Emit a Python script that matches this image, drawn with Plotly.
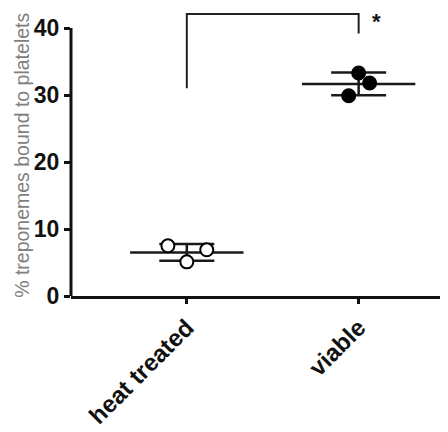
import numpy as np
import plotly.graph_objects as go

# ---- data ----
categories = ["heat treated", "viable"]
heat_treated = [7.5, 6.9, 5.1]
viable = [33.3, 31.8, 29.9]
y_ticks = [0, 10, 20, 30, 40]
y_title = "% treponemes bound to platelets"
sig_label = "*"
bracket_levels = [31.0, 42.1, 39.2]   # left leg bottom, top, right leg bottom

# ---- style / layout positions ----
offsets = [[-0.11, 0.116, 0.0], [0.0, 0.064, -0.058]]
fills = ["white", "black"]
mean_hw = 0.33
sd_hw = 0.16
font = "Liberation Sans, Arial, sans-serif"

fig = go.Figure()

groups = [heat_treated, viable]

for i, vals in enumerate(groups):
    v = np.array(vals)
    m = v.mean()
    sd = v.std(ddof=1)
    fig.add_trace(go.Scatter(
        x=[i, i, None, i - sd_hw, i + sd_hw, None, i - sd_hw, i + sd_hw, None, i - mean_hw, i + mean_hw],
        y=[m - sd, m + sd, None, m + sd, m + sd, None, m - sd, m - sd, None, m, m],
        mode="lines", line=dict(color="#1a1a1a", width=2.5),
        showlegend=False, hoverinfo="skip", cliponaxis=False))
    fig.add_trace(go.Scatter(
        x=[i + o for o in offsets[i]], y=vals, mode="markers",
        marker=dict(size=13, color=fills[i], line=dict(color="black", width=2)),
        showlegend=False, cliponaxis=False))

# significance bracket
fig.add_trace(go.Scatter(
    x=[0, 0, 1, 1], y=[bracket_levels[0], bracket_levels[1], bracket_levels[1], bracket_levels[2]],
    mode="lines", line=dict(color="#222222", width=2),
    showlegend=False, hoverinfo="skip", cliponaxis=False))
fig.add_annotation(x=1.105, y=41.0, xref="x", yref="y", text=sig_label, showarrow=False,
                   font=dict(family=font, size=22, color="#111", weight="bold"))

# y axis line only from 0 to 40
fig.add_shape(type="line", xref="paper", yref="y", x0=0, x1=0, y0=0, y1=max(y_ticks),
              line=dict(color="#111", width=3))

fig.add_annotation(text=y_title, xref="paper", yref="paper", x=-0.13, y=0.49,
                   textangle=-90, showarrow=False, xanchor="center", yanchor="middle",
                   font=dict(family=font, size=19.5, color="#7f7f7f"))

fig.update_layout(
    width=440, height=424,
    margin=dict(l=63, r=0, t=0, b=136, autoexpand=False),
    plot_bgcolor="white", paper_bgcolor="white",
    xaxis=dict(range=[-0.674, 1.52], tickvals=[0, 1], ticktext=categories,
               tickangle=-45, showline=True, linecolor="#111", linewidth=3,
               ticks="outside", ticklen=5, tickwidth=2.5, tickcolor="#111",
               showgrid=False, zeroline=False, automargin=False,
               tickfont=dict(family=font, size=24, color="#111", weight="bold")),
    yaxis=dict(range=[0, 43.0], tickvals=y_ticks, showline=False,
               ticks="outside", ticklen=6, tickwidth=2.5, tickcolor="#111",
               showgrid=False, zeroline=False, automargin=False,
               tickfont=dict(family=font, size=23, color="#111", weight="bold")),
)

fig.write_html("out.html")
